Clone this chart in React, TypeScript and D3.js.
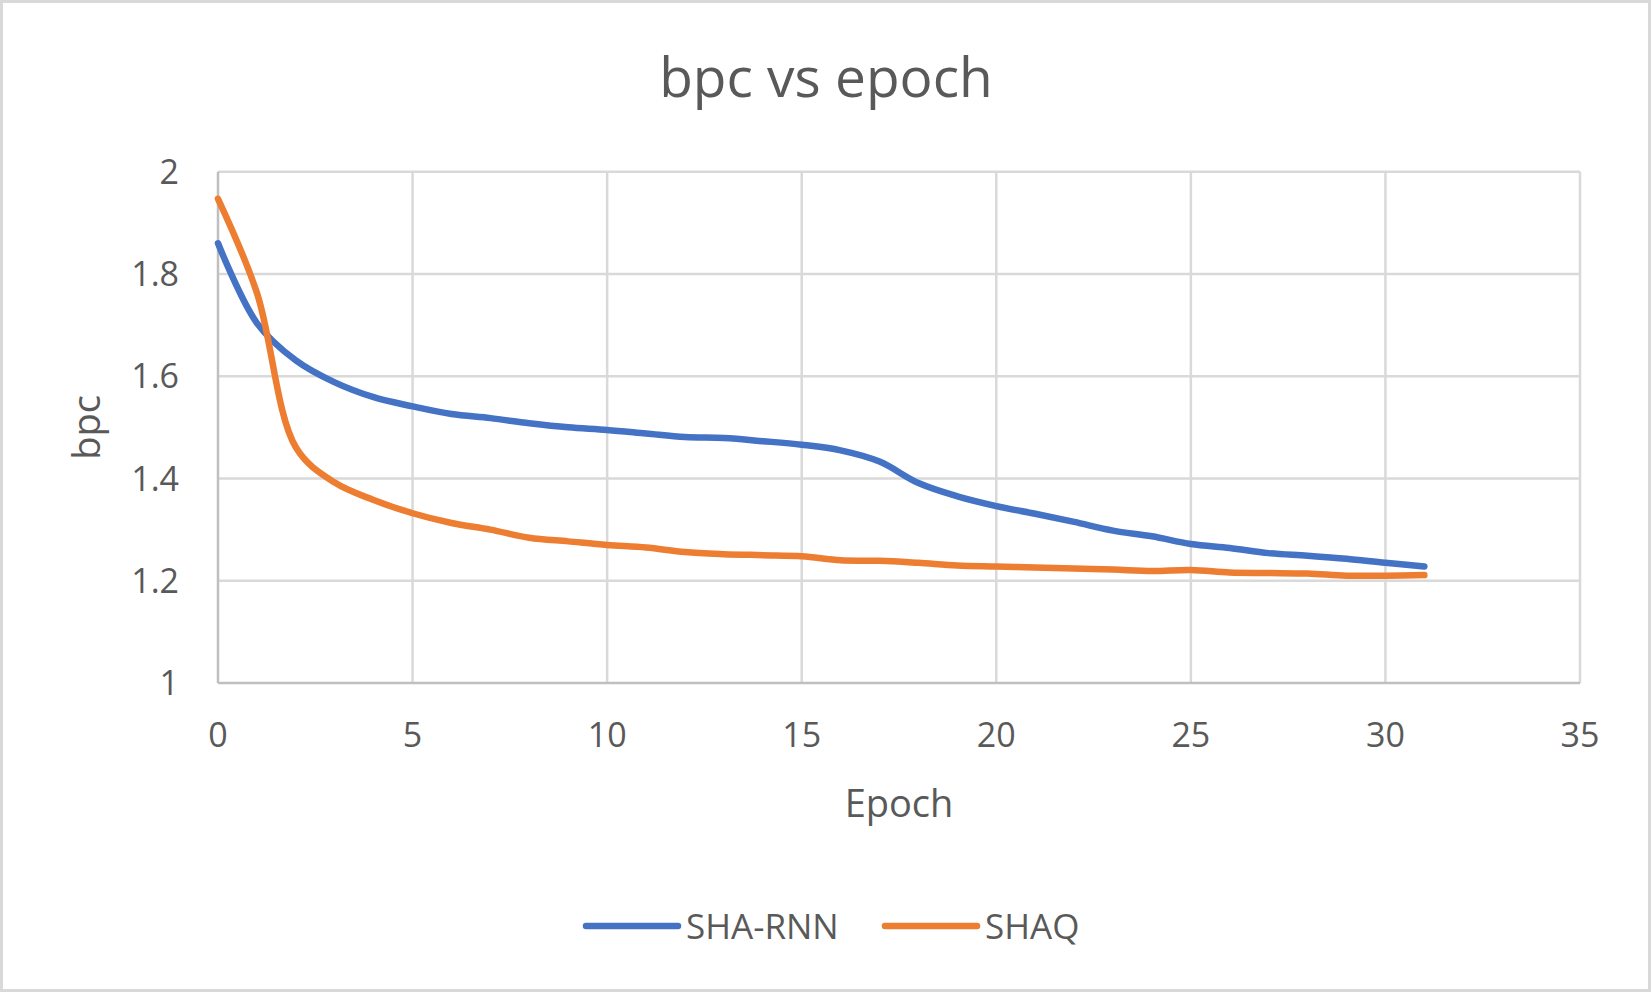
import { useEffect, useRef } from "react";
import * as d3 from "d3";

const epochs = [0, 1, 2, 3, 4, 5, 6, 7, 8, 9, 10, 11, 12, 13, 14, 15, 16, 17, 18, 19, 20, 21, 22, 23, 24, 25, 26, 27, 28, 29, 30, 31];
const shaRnn = [1.86, 1.704, 1.631, 1.588, 1.559, 1.541, 1.526, 1.518, 1.508, 1.5, 1.495, 1.488, 1.481, 1.479, 1.473, 1.466, 1.455, 1.433, 1.391, 1.365, 1.346, 1.331, 1.315, 1.298, 1.287, 1.272, 1.264, 1.254, 1.249, 1.243, 1.235, 1.228];
const shaq = [1.947, 1.763, 1.461, 1.392, 1.358, 1.332, 1.313, 1.3, 1.284, 1.277, 1.27, 1.265, 1.256, 1.252, 1.25, 1.248, 1.24, 1.239, 1.235, 1.23, 1.228, 1.226, 1.224, 1.222, 1.219, 1.221, 1.216, 1.215, 1.214, 1.21, 1.21, 1.211];
const xTicks = [0, 5, 10, 15, 20, 25, 30, 35];
const yTicks = [1, 1.2, 1.4, 1.6, 1.8, 2];
const seriesNames = ["SHA-RNN", "SHAQ"];
const seriesColors = ["#4472C4", "#ED7D31"];

export default function App() {
  const svgRef = useRef<SVGSVGElement | null>(null);

  useEffect(() => {
    const svg = d3.select(svgRef.current);
    const width = 1652;
    const height = 993;
    const margin = { top: 171.7, right: 72, bottom: 310, left: 218 };
    const font = "'Open Sans', 'Noto Sans', sans-serif";
    const textColor = "#595959";

    svg.selectAll("*").remove();
    svg.attr("width", width).attr("height", height).attr("viewBox", `0 0 ${width} ${height}`);

    svg.append("rect")
      .attr("x", 1.5).attr("y", 1.5)
      .attr("width", width - 4).attr("height", height - 4)
      .attr("fill", "#fff").attr("stroke", "#d9d9d9").attr("stroke-width", 3);

    const x = d3.scaleLinear().domain([0, 35]).range([margin.left, width - margin.right]);
    const y = d3.scaleLinear().domain([1, 2]).range([height - margin.bottom, margin.top]);

    // gridlines
    svg.append("g")
      .selectAll("line.v")
      .data(xTicks.slice(1))
      .enter().append("line")
      .attr("x1", (d) => x(d)).attr("x2", (d) => x(d))
      .attr("y1", y(2)).attr("y2", y(1))
      .attr("stroke", "#d9d9d9").attr("stroke-width", 2.5);

    svg.append("g")
      .selectAll("line.h")
      .data(yTicks.slice(1))
      .enter().append("line")
      .attr("x1", x(0)).attr("x2", x(35))
      .attr("y1", (d) => y(d)).attr("y2", (d) => y(d))
      .attr("stroke", "#d9d9d9").attr("stroke-width", 2.5);

    // axis lines
    svg.append("line")
      .attr("x1", x(0)).attr("x2", x(35)).attr("y1", y(1)).attr("y2", y(1))
      .attr("stroke", "#bfbfbf").attr("stroke-width", 2.5);
    svg.append("line")
      .attr("x1", x(0)).attr("x2", x(0)).attr("y1", y(2)).attr("y2", y(1))
      .attr("stroke", "#bfbfbf").attr("stroke-width", 2.5);

    // tick labels
    svg.append("g")
      .selectAll("text")
      .data(xTicks)
      .enter().append("text")
      .attr("x", (d) => x(d)).attr("y", 746.5)
      .attr("text-anchor", "middle")
      .style("font-family", font).style("font-size", "34px").style("fill", textColor)
      .text((d) => String(d));

    svg.append("g")
      .selectAll("text")
      .data(yTicks)
      .enter().append("text")
      .attr("x", 179).attr("y", (d) => y(d))
      .attr("dy", "0.36em")
      .attr("text-anchor", "end")
      .style("font-family", font).style("font-size", "34px").style("fill", textColor)
      .text((d) => String(d));

    // titles
    svg.append("text")
      .attr("x", width / 2).attr("y", 96.7)
      .attr("text-anchor", "middle")
      .style("font-family", font).style("font-size", "55px").style("fill", textColor)
      .text("bpc vs epoch");

    svg.append("text")
      .attr("x", (x(0) + x(35)) / 2).attr("y", 817)
      .attr("text-anchor", "middle")
      .style("font-family", font).style("font-size", "38px").style("fill", textColor)
      .text("Epoch");

    svg.append("text")
      .attr("transform", `translate(100,${(y(1) + y(2)) / 2}) rotate(-90)`)
      .attr("text-anchor", "middle")
      .style("font-family", font).style("font-size", "38px").style("fill", textColor)
      .text("bpc");

    // series
    const line = d3.line<number>()
      .x((_, i) => x(epochs[i]))
      .y((d) => y(d))
      .curve(d3.curveCatmullRom.alpha(0.5));

    [shaRnn, shaq].forEach((values, i) => {
      svg.append("path")
        .datum(values)
        .attr("d", line)
        .attr("fill", "none")
        .attr("stroke", seriesColors[i])
        .attr("stroke-width", 6.5)
        .attr("stroke-linecap", "round")
        .attr("stroke-linejoin", "round");
    });

    // legend
    const legendItems = [
      { x1: 586, x2: 678, tx: 686 },
      { x1: 885, x2: 977, tx: 985 },
    ];
    legendItems.forEach((item, i) => {
      svg.append("line")
        .attr("x1", item.x1).attr("x2", item.x2)
        .attr("y1", 926).attr("y2", 926)
        .attr("stroke", seriesColors[i]).attr("stroke-width", 6.5)
        .attr("stroke-linecap", "round");
      svg.append("text")
        .attr("x", item.tx).attr("y", 938.6)
        .style("font-family", font).style("font-size", "35px").style("fill", textColor)
        .text(seriesNames[i]);
    });
  }, []);

  return (
    <div style={{ position: "absolute", left: 0, top: 0 }}>
      <svg ref={svgRef} style={{ display: "block" }} />
    </div>
  );
}
